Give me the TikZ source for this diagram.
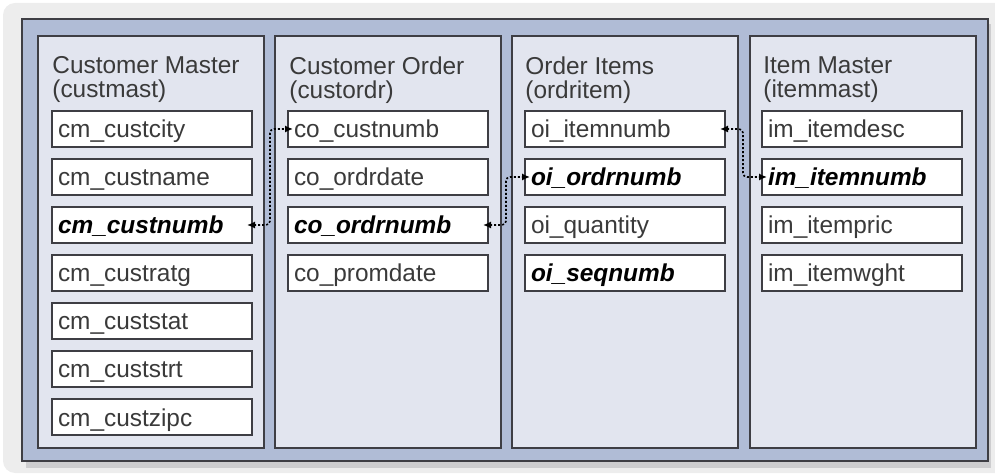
\documentclass[tikz,border=0pt]{standalone}
\usepackage{fontspec}
\setmainfont{Liberation Sans}
\usetikzlibrary{arrows.meta,positioning}
\definecolor{bggray}{RGB}{237,237,237}
\definecolor{shadowgray}{RGB}{205,205,207}
\definecolor{frameblue}{RGB}{176,188,214}
\definecolor{panelfill}{RGB}{226,229,239}
\definecolor{edgegray}{RGB}{62,62,68}
\definecolor{textgray}{RGB}{58,58,58}
\tikzset{
    tablebox/.style={draw=edgegray, fill=panelfill, line width=1pt, minimum width=113pt, minimum height=206pt, anchor=north west, inner sep=0pt, outer sep=0pt},
    tabletitle/.style={anchor=north west, align=left, text=textgray, inner sep=0pt, font=\fontsize{12.2}{12.2}\selectfont},
    field/.style={draw=edgegray, fill=white, line width=1pt, minimum height=18pt, text width=94pt, inner xsep=3pt, inner ysep=0pt, align=left, outer sep=0pt, text height=10.5pt, text depth=1.5pt, text=textgray, font=\fontsize{12.2}{14}\selectfont},
    keyfield/.style={field, text=black, font=\fontsize{12.2}{14}\selectfont\bfseries\itshape},
    joinline/.style={draw, dash pattern=on 1pt off 1pt, line width=0.8pt, rounded corners=2pt, {Latex[length=4pt,width=3.6pt]}-{Latex[length=4pt,width=3.6pt]}, shorten <=-2.5pt, shorten >=-2.5pt}
}
\begin{document}
\begin{tikzpicture}[x=0.5pt, y=-0.5pt]
\useasboundingbox (0,0) rectangle (995,475);

% Background and frame
\fill[bggray] (995,3) [rounded corners=6pt] -- (3,3) -- (3,473) [sharp corners] -- (995,473) -- cycle;
\fill[shadowgray] (26,24) rectangle (991,468);
\draw[edgegray, fill=frameblue, line width=1pt] (22,19) rectangle (988,461);

% Tables
\node[tablebox] (custmast) at (38,36)  {};
\node[tablebox] (custordr) at (275,36) {};
\node[tablebox] (ordritem) at (512,36) {};
\node[tablebox] (itemmast) at (750,36) {};

\node[tabletitle] (t1) at (52,56)  {Customer Master\\(custmast)};
\node[tabletitle] (t2) at (289,56) {Customer Order\\(custordr)};
\node[tabletitle] (t3) at (525,56) {Order Items\\(ordritem)};
\node[tabletitle] (t4) at (763,56) {Item Master\\(itemmast)};

% Customer Master fields
\node[field, anchor=north west] (cmcity) at (52,111) {cm\_custcity};
\node[field, below=6pt of cmcity] (cmname) {cm\_custname};
\node[keyfield, below=6pt of cmname] (cmnumb) {cm\_custnumb};
\node[field, below=6pt of cmnumb] (cmratg) {cm\_custratg};
\node[field, below=6pt of cmratg] (cmstat) {cm\_custstat};
\node[field, below=6pt of cmstat] (cmstrt) {cm\_custstrt};
\node[field, below=6pt of cmstrt] (cmzipc) {cm\_custzipc};

% Customer Order fields
\node[field, anchor=north west] (cocust) at (288,111) {co\_custnumb};
\node[field, below=6pt of cocust] (codate) {co\_ordrdate};
\node[keyfield, below=6pt of codate] (conumb) {co\_ordrnumb};
\node[field, below=6pt of conumb] (coprom) {co\_promdate};

% Order Items fields
\node[field, anchor=north west] (oiitem) at (525,111) {oi\_itemnumb};
\node[keyfield, below=6pt of oiitem] (oiordr) {oi\_ordrnumb};
\node[field, below=6pt of oiordr] (oiqty) {oi\_quantity};
\node[keyfield, below=6pt of oiqty] (oiseq) {oi\_seqnumb};

% Item Master fields
\node[field, anchor=north west] (imdesc) at (762,111) {im\_itemdesc};
\node[keyfield, below=6pt of imdesc] (imnumb) {im\_itemnumb};
\node[field, below=6pt of imnumb] (impric) {im\_itempric};
\node[field, below=6pt of impric] (imwght) {im\_itemwght};

% Key links
\draw[joinline] (cmnumb.east) -- ++(18,0) |- (cocust.west);
\draw[joinline] (conumb.east) -- ++(18,0) |- (oiordr.west);
\draw[joinline] (oiitem.east) -- ++(18,0) |- (imnumb.west);
\end{tikzpicture}
\end{document}
